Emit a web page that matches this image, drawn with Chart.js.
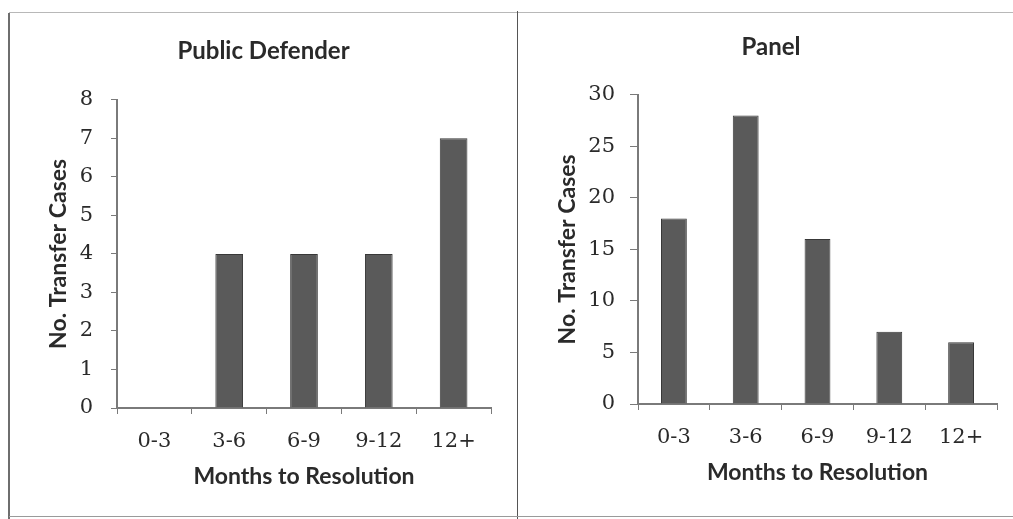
<!DOCTYPE html>
<html>
<head>
<meta charset="utf-8">
<script src="https://cdn.jsdelivr.net/npm/chart.js@4.4.0/dist/chart.umd.min.js"></script>
<style>
  body { margin: 0; background: #fff; }
  #wrap { position: relative; width: 1013px; height: 519px; overflow: hidden; background: #fff; }
  canvas { position: absolute; top: 0; }
  #left { left: 0; }
  #right { left: 518px; }
  .line { position: absolute; }
</style>
</head>
<body>
<div id="wrap">
  <canvas id="left" width="518" height="519"></canvas>
  <canvas id="right" width="495" height="519"></canvas>
  <!-- panel frames -->
  <div class="line" style="left:8px;top:13px;width:2px;height:506px;background:#6e6e6e"></div>
  <div class="line" style="left:9px;top:12px;width:1004px;height:1px;background:#b8b8b8"></div>
  <div class="line" style="left:517px;top:11px;width:1px;height:508px;background:#555"></div>
  <div class="line" style="left:9px;top:516px;width:1004px;height:1px;background:#9a9a9a"></div>
</div>
<script>
// Months-to-resolution buckets shared by both panels
const categories = ['0-3', '3-6', '6-9', '9-12', '12+'];

// Transfer case counts per bucket
const publicDefenderCases = [0, 4, 4, 4, 7];
const panelCases = [18, 28, 16, 7, 6];

// y-axis ranges
const pdMax = 8, pdStep = 1;
const panelMax = 30, panelStep = 5;

const titleFont = { family: 'Lato', size: 24, weight: 'bold' };
const axisTitleFont = { family: 'Lato', size: 23, weight: 'bold' };
const tickFont = { family: 'DejaVu Serif', size: 21 };
const textColor = '#2a2a2a';
const axisColor = '#7a7a7a';

function makeChart(id, title, values, yMax, yStep, opts) {
  return new Chart(document.getElementById(id), {
    type: 'bar',
    data: {
      labels: categories,
      datasets: [{
        data: values,
        backgroundColor: '#5a5a5a',
        borderColor: '#383838',
        borderWidth: 1,
        categoryPercentage: 1,
        barPercentage: opts.barPct
      }]
    },
    options: {
      responsive: false,
      animation: false,
      layout: { padding: opts.padding },
      plugins: {
        legend: { display: false },
        tooltip: { enabled: false },
        title: {
          display: true,
          text: title,
          color: textColor,
          font: titleFont,
          padding: { top: 0, bottom: opts.titleGap }
        }
      },
      scales: {
        x: {
          grid: { display: true, drawOnChartArea: false, tickLength: 6, color: axisColor, offset: true },
          border: { color: axisColor, width: 2 },
          ticks: { color: textColor, font: tickFont, padding: 15 },
          title: { display: true, text: 'Months to Resolution', color: textColor, font: axisTitleFont, padding: { top: 10, bottom: 3 } },
          afterFit: s => { s.height = opts.xHeight; }
        },
        y: {
          min: 0,
          max: yMax,
          grid: { display: true, drawOnChartArea: false, tickLength: opts.yTick, color: axisColor },
          border: { color: axisColor, width: 2 },
          ticks: { stepSize: yStep, color: textColor, font: tickFont, padding: opts.yPad },
          title: { display: true, text: 'No. Transfer Cases', color: textColor, font: axisTitleFont, padding: { top: 9, bottom: 4 } },
          afterFit: s => { s.width = opts.yWidth; }
        }
      }
    }
  });
}

makeChart('left', 'Public Defender', publicDefenderCases, pdMax, pdStep, {
  barPct: 0.37,
  padding: { left: 36, right: 27, top: 37, bottom: 26 },
  titleGap: 34,
  xHeight: 85,
  yWidth: 81,
  yTick: 6,
  yPad: 18
});

makeChart('right', 'Panel', panelCases, panelMax, panelStep, {
  barPct: 0.36,
  padding: { left: 27, right: 16, top: 33, bottom: 30 },
  titleGap: 33,
  xHeight: 85,
  yWidth: 93,
  yTick: 8,
  yPad: 15
});
</script>
</body>
</html>
